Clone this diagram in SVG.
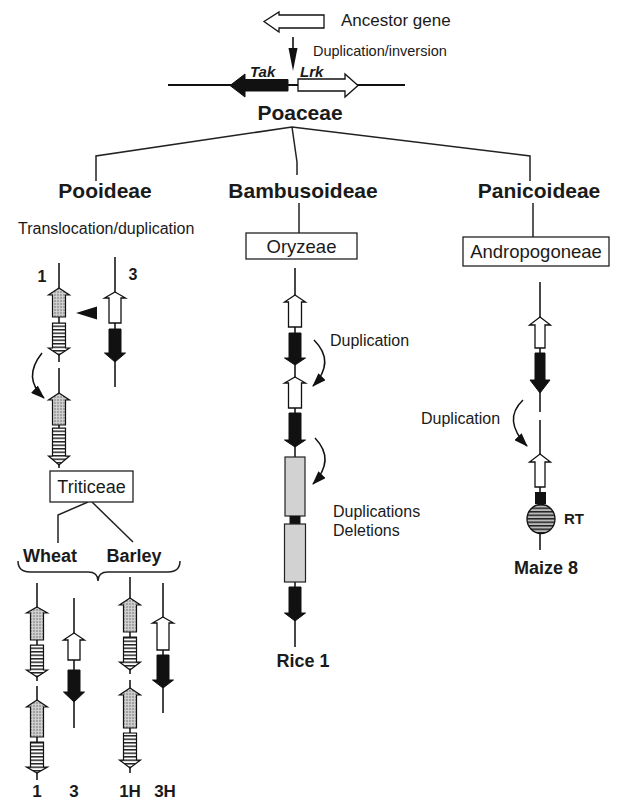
<svg xmlns="http://www.w3.org/2000/svg" width="622" height="801" viewBox="0 0 622 801">
<style>
text{font-family:"Liberation Sans",Arial,sans-serif;fill:#1a1a1a}
.b{font-weight:bold}
.lbl{font-size:21px;font-weight:bold}
.sm{font-size:16px}
.box{fill:#fff;stroke:#222;stroke-width:1.3}
.ln{fill:none;stroke:#1a1a1a;stroke-width:1.6}
.tr{fill:none;stroke:#222;stroke-width:1.5}
.op{fill:#fff;stroke:#111;stroke-width:1.3}
.bk{fill:#111;stroke:#111;stroke-width:1}
.st{fill:url(#stip);stroke:#111;stroke-width:1.2}
.sp{fill:url(#strp);stroke:#111;stroke-width:1.2}
.gr{fill:#d2d2d2;stroke:#222;stroke-width:1.2}
.cv{fill:none;stroke:#111;stroke-width:1.5;marker-end:url(#ah)}
</style>
<defs>
<pattern id="stip" width="3" height="3" patternUnits="userSpaceOnUse"><rect width="3" height="3" fill="#cfcfcf"/><circle cx="1" cy="1" r="0.7" fill="#555"/></pattern>
<pattern id="strp" width="4" height="3.5" patternUnits="userSpaceOnUse"><rect width="4" height="3.5" fill="#fff"/><rect width="4" height="1.5" fill="#222"/></pattern>
<pattern id="strp2" width="4" height="3.5" patternUnits="userSpaceOnUse"><rect width="4" height="3.5" fill="#bbb"/><rect width="4" height="1.5" fill="#222"/></pattern>
<marker id="ah" viewBox="0 0 14 10" refX="13" refY="5" markerWidth="14" markerHeight="10" orient="auto" markerUnits="userSpaceOnUse"><path d="M0,0 L14,5 L0,10 z" fill="#111"/></marker>
</defs>

<g id="ancestor">
<polygon class="op" points="264,21.5 279,12 279,15 324,15 324,28 279,28 279,32"/>
<text x="341" y="26" style="font-size:17px">Ancestor gene</text>
<line x1="293" y1="37" x2="293" y2="50" stroke="#111" stroke-width="1.6"/>
<polygon points="288.5,48 297.5,48 293,71" fill="#111"/>
<text x="313" y="56" style="font-size:14.5px">Duplication/inversion</text>
</g>

<g id="taklrk">
<line x1="168" y1="85" x2="405" y2="85" stroke="#111" stroke-width="1.8"/>
<polygon class="bk" points="230,85.5 245,74 245,79.5 288,79.5 288,91 245,91 245,97"/>
<polygon class="op" points="298,79 345,79 345,74 358,85.5 345,97 345,91 298,91"/>
<text x="250" y="77" class="b" style="font-size:15px;font-style:italic">Tak</text>
<text x="300" y="77" class="b" style="font-size:15px;font-style:italic">Lrk</text>
</g>

<g id="connectors">
<path class="tr" d="M96,181 L96,156 L292,127 L530,156 L530,181"/>
<path class="tr" d="M292,127 L297,162 L297,175"/>
<line class="tr" x1="299" y1="203" x2="299" y2="233"/>
<line class="tr" x1="533" y1="203" x2="533" y2="237"/>
<path class="tr" d="M88,502 L58,515 L58,543"/>
<path class="tr" d="M92,502 L133,542"/>
<path class="tr" d="M18,561 Q18,572 30,572 L88,572 Q98,572 98,581 Q98,572 108,572 L168,572 Q180,572 180,561"/>
<path class="cv" d="M42,353 Q22,378 44,398"/>
<path class="cv" d="M314,340 Q336,362 313,386"/>
<path class="cv" d="M315,438 Q336,460 313,484"/>
<path class="cv" d="M523,400 Q502,420 527,446"/>
</g>

<g id="poaceae"><text x="300" y="120" class="lbl" text-anchor="middle">Poaceae</text></g>
<g id="pooideae"><text x="105" y="198" class="lbl" text-anchor="middle">Pooideae</text></g>
<g id="bambusoideae"><text x="303" y="198" class="lbl" text-anchor="middle">Bambusoideae</text></g>
<g id="panicoideae"><text x="539" y="198" class="lbl" text-anchor="middle">Panicoideae</text></g>
<g id="transloc"><text x="18" y="234" class="sm">Translocation/duplication</text></g>

<g id="oryzeae"><rect class="box" x="246" y="233" width="111" height="26"/><text x="301.5" y="252.5" text-anchor="middle" style="font-size:18.5px">Oryzeae</text></g>
<g id="andropogoneae"><rect class="box" x="463" y="237" width="146" height="29"/><text x="536" y="258" text-anchor="middle" style="font-size:18.5px">Andropogoneae</text></g>
<g id="triticeae"><rect class="box" x="50" y="471" width="83" height="31"/><text x="91.5" y="493" text-anchor="middle" style="font-size:18px">Triticeae</text></g>

<g id="pooid-chr1">
<line class="ln" x1="59" y1="263" x2="59" y2="362"/>
<line class="ln" x1="59" y1="368" x2="59" y2="468"/>
<polygon class="st" points="59,288 69.5,295 65.5,295 65.5,317 52.5,317 52.5,295 48.5,295"/>
<polygon class="sp" points="52.5,323 65.5,323 65.5,348 69.5,348 59,355 48.5,348 52.5,348"/>
<polygon class="st" points="59,393 69.5,400 65.5,400 65.5,425 52.5,425 52.5,400 48.5,400"/>
<polygon class="sp" points="52.5,428 65.5,428 65.5,456 69.5,456 59,465 48.5,456 52.5,456"/>
<text x="42" y="282" class="b" text-anchor="middle" style="font-size:16px">1</text>
</g>
<g id="pooid-chr3">
<line class="ln" x1="115" y1="257" x2="115" y2="387"/>
<polygon class="op" points="115,292 125.5,298 121,298 121,323 109,323 109,298 104.5,298"/>
<polygon class="bk" points="109,329 121,329 121,353 125.5,353 115,362 104.5,353 109,353"/>
<text x="133" y="280" class="b" text-anchor="middle" style="font-size:16px">3</text>
<polygon points="76,313 97,306.5 97,319.5" fill="#111"/>
</g>

<g id="wheat-barley">
<text x="50" y="562" class="b" text-anchor="middle" style="font-size:18px">Wheat</text>
<text x="134" y="562" class="b" text-anchor="middle" style="font-size:18px">Barley</text>
</g>

<g id="wheat1">
<line class="ln" x1="37" y1="583" x2="37" y2="681"/>
<line class="ln" x1="37" y1="686" x2="37" y2="780"/>
<polygon class="st" points="37,607 47.5,613 43.5,613 43.5,640 30.5,640 30.5,613 26.5,613"/>
<polygon class="sp" points="30.5,645 43.5,645 43.5,670 47.5,670 37,677 26.5,670 30.5,670"/>
<polygon class="st" points="37,700 47.5,707 43.5,707 43.5,737 30.5,737 30.5,707 26.5,707"/>
<polygon class="sp" points="30.5,742 43.5,742 43.5,767 47.5,767 37,773 26.5,767 30.5,767"/>
<text x="37" y="797" class="b" text-anchor="middle" style="font-size:17px">1</text>
</g>
<g id="wheat3">
<line class="ln" x1="74" y1="598" x2="74" y2="728"/>
<polygon class="op" points="74,633 84.5,640 80,640 80,660 68,660 68,640 63.5,640"/>
<polygon class="bk" points="68,670 80,670 80,692 84.5,692 74,702 63.5,692 68,692"/>
<text x="74" y="797" class="b" text-anchor="middle" style="font-size:17px">3</text>
</g>
<g id="barley1H">
<line class="ln" x1="130" y1="577" x2="130" y2="674"/>
<line class="ln" x1="130" y1="680" x2="130" y2="773"/>
<polygon class="st" points="130,598 140.5,605 136.5,605 136.5,632 123.5,632 123.5,605 119.5,605"/>
<polygon class="sp" points="123.5,637 136.5,637 136.5,662 140.5,662 130,670 119.5,662 123.5,662"/>
<polygon class="st" points="130,688 140.5,695 136.5,695 136.5,728 123.5,728 123.5,695 119.5,695"/>
<polygon class="sp" points="123.5,733 136.5,733 136.5,760 140.5,760 130,768 119.5,760 123.5,760"/>
<text x="130" y="797" class="b" text-anchor="middle" style="font-size:17px">1H</text>
</g>
<g id="barley3H">
<line class="ln" x1="163" y1="583" x2="163" y2="713"/>
<polygon class="op" points="163,617 173.5,623 169,623 169,650 157,650 157,623 152.5,623"/>
<polygon class="bk" points="157,655 169,655 169,680 173.5,680 163,688 152.5,680 157,680"/>
<text x="165" y="797" class="b" text-anchor="middle" style="font-size:17px">3H</text>
</g>

<g id="rice1">
<line class="ln" x1="295" y1="268" x2="295" y2="647"/>
<polygon class="op" points="295,295 305.5,302 301.5,302 301.5,327 288.5,327 288.5,302 284.5,302"/>
<polygon class="bk" points="289,333 301,333 301,358 305.5,358 295,365 284.5,358 289,358"/>
<polygon class="op" points="295,377 305.5,383 301.5,383 301.5,408 288.5,408 288.5,383 284.5,383"/>
<polygon class="bk" points="289,413 301,413 301,440 305.5,440 295,447 284.5,440 289,440"/>
<rect class="gr" x="285" y="457" width="20" height="59"/>
<rect x="289.5" y="516" width="11" height="8" fill="#111"/>
<rect class="gr" x="284.5" y="524" width="21" height="58"/>
<polygon class="bk" points="289,587 301,587 301,613 305.5,613 295,621 284.5,613 289,613"/>
<text x="330" y="346" class="sm">Duplication</text>
<text x="333" y="517" class="sm">Duplications</text>
<text x="333" y="536" class="sm">Deletions</text>
<text x="303" y="667" class="b" text-anchor="middle" style="font-size:18px">Rice 1</text>
</g>

<g id="maize8">
<line class="ln" x1="540" y1="282" x2="540" y2="412"/>
<line class="ln" x1="540" y1="420" x2="540" y2="550"/>
<polygon class="op" points="540,317 550.5,325 545,325 545,348 535,348 535,325 529.5,325"/>
<polygon class="bk" points="535,353 545,353 545,380 550,380 540,393 530,380 535,380"/>
<polygon class="op" points="540,454 550.5,462 545,462 545,487 535,487 535,462 529.5,462"/>
<rect x="535" y="492" width="11" height="12" fill="#111"/>
<ellipse cx="541" cy="519" rx="14" ry="14.5" fill="url(#strp2)" stroke="#111" stroke-width="1.3"/>
<text x="564" y="524" class="b" style="font-size:15px">RT</text>
<text x="421" y="424" class="sm">Duplication</text>
<text x="546" y="574" class="b" text-anchor="middle" style="font-size:18px">Maize 8</text>
</g>
</svg>
